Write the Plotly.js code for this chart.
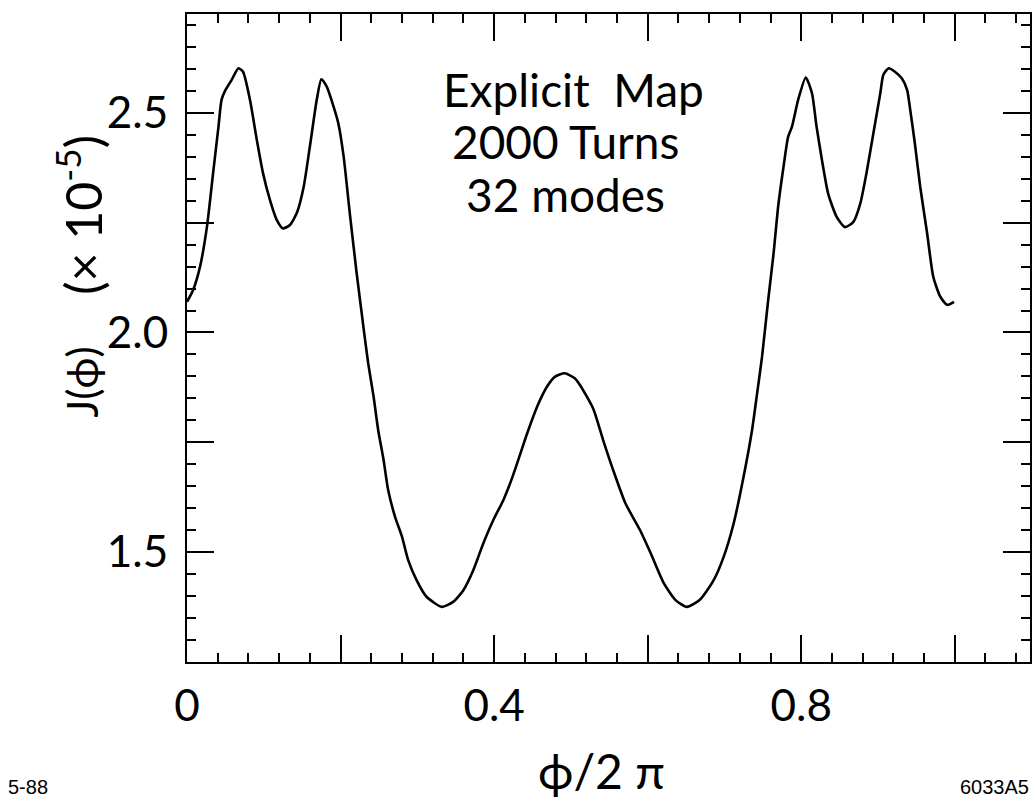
<!DOCTYPE html>
<html>
<head>
<meta charset="utf-8">
<script src="https://cdn.plot.ly/plotly-3.0.1.min.js"></script>
<style>html,body{margin:0;padding:0;background:#fff;}#chart{width:1035px;height:801px;}</style>
</head>
<body>
<div id="chart"></div>
<script>
// phase phi/2pi
const phase = [0.000,0.008,0.017,0.026,0.034,0.041,0.045,0.050,0.058,0.067,0.073,0.082,0.091,0.099,0.108,0.117,0.125,0.134,0.143,0.152,0.160,0.169,0.175,0.182,0.191,0.197,0.204,0.212,0.221,0.230,0.236,0.243,0.249,0.256,0.262,0.271,0.280,0.288,0.299,0.312,0.332,0.347,0.360,0.373,0.386,0.399,0.412,0.421,0.430,0.443,0.456,0.469,0.479,0.492,0.505,0.512,0.529,0.542,0.555,0.571,0.590,0.604,0.621,0.636,0.651,0.668,0.686,0.699,0.712,0.725,0.736,0.742,0.749,0.757,0.764,0.770,0.777,0.783,0.788,0.796,0.806,0.814,0.820,0.827,0.835,0.846,0.857,0.868,0.877,0.885,0.894,0.903,0.907,0.914,0.922,0.931,0.938,0.942,0.948,0.955,0.964,0.972,0.981,0.990,0.999];
// J(phi) in units of 1e-5
const jValues = [2.070,2.097,2.150,2.241,2.363,2.469,2.530,2.552,2.575,2.602,2.594,2.530,2.438,2.363,2.302,2.256,2.237,2.245,2.272,2.332,2.423,2.530,2.577,2.560,2.514,2.477,2.401,2.272,2.135,2.010,1.930,1.854,1.778,1.710,1.641,1.580,1.535,1.482,1.436,1.398,1.375,1.387,1.413,1.459,1.520,1.573,1.618,1.657,1.702,1.770,1.831,1.877,1.899,1.907,1.896,1.880,1.827,1.755,1.687,1.611,1.550,1.497,1.429,1.391,1.375,1.391,1.436,1.489,1.565,1.672,1.778,1.854,1.945,2.074,2.180,2.287,2.378,2.446,2.469,2.530,2.581,2.545,2.469,2.393,2.317,2.264,2.240,2.252,2.294,2.363,2.454,2.545,2.587,2.602,2.594,2.579,2.552,2.507,2.431,2.332,2.226,2.127,2.082,2.063,2.070];

const xLabelVals = [0, 0.4, 0.8];
const xLabelText = ['0', '0.4', '0.8'];
const xPlainVals = [0.2, 0.6, 1.0];
const xAllMajor = [0, 0.2, 0.4, 0.6, 0.8, 1.0];
const yLabelVals = [1.5, 2.0, 2.5];
const yLabelText = ['1.5', '2.0', '2.5'];
const yPlainVals = [1.75, 2.25];
const yAllMajor = [1.5, 1.75, 2.0, 2.25, 2.5];
const noteLines = ['Explicit\u00A0\u00A0Map', '2000 Turns', '32 modes'];
const xTitle = '\u03D5/2\u00A0\u03C0';
const yTitleA = 'J(\u03D5)';
const yTitleB = '(\u00D7\u00A010<sup>-5</sup>)';
const leftNote = '5-88';
const rightNote = '6033A5';

const X_RANGE = [0, 1.098];
const Y_RANGE = [1.2494, 2.7255];
const FONT = 'Lato, "Open Sans", sans-serif';

const mainTrace = {
  x: phase, y: jValues, type: 'scatter', mode: 'lines',
  line: {color: '#000', width: 2.6, shape: 'spline', smoothing: 0.6},
  hoverinfo: 'skip'
};
const ghost2 = {x: phase, y: jValues, xaxis: 'x2', yaxis: 'y2', type: 'scatter', mode: 'lines', opacity: 0, line: {width: 0}, hoverinfo: 'skip'};
const ghost3 = {x: phase, y: jValues, xaxis: 'x3', yaxis: 'y3', type: 'scatter', mode: 'lines', opacity: 0, line: {width: 0}, hoverinfo: 'skip'};

const base = {
  showgrid: false, zeroline: false, tickmode: 'array', autorange: false,
  ticks: 'inside', tickcolor: '#000', tickwidth: 2, ticklen: 27
};
const tf = {family: FONT, size: 44, color: '#000'};
const minorX = {ticks: 'inside', dtick: 0.04, tick0: 0, ticklen: 9, tickwidth: 2, tickcolor: '#000', showgrid: false};
const minorY = {ticks: 'inside', dtick: 0.05, tick0: 0, ticklen: 9, tickwidth: 2, tickcolor: '#000', showgrid: false};

const layout = {
  width: 1035, height: 801,
  margin: {l: 187, r: 5, t: 14, b: 139},
  paper_bgcolor: '#fff', plot_bgcolor: '#fff',
  showlegend: false,
  xaxis: Object.assign({}, base, {
    range: X_RANGE, side: 'bottom', tickvals: xLabelVals, ticktext: xLabelText,
    tickfont: tf, ticklabelstandoff: 4, showline: true, linecolor: '#000', linewidth: 2,
    minor: minorX
  }),
  xaxis2: Object.assign({}, base, {
    range: X_RANGE, side: 'bottom', overlaying: 'x', anchor: 'y2',
    tickvals: xPlainVals, showticklabels: false, showline: false
  }),
  xaxis3: Object.assign({}, base, {
    range: X_RANGE, side: 'top', overlaying: 'x', anchor: 'y3',
    tickvals: xAllMajor, showticklabels: false, showline: true, linecolor: '#000', linewidth: 2,
    minor: minorX
  }),
  yaxis: Object.assign({}, base, {
    range: Y_RANGE, side: 'left', tickvals: yLabelVals, ticktext: yLabelText,
    tickfont: tf, ticklabelstandoff: 8, showline: true, linecolor: '#000', linewidth: 2,
    minor: minorY
  }),
  yaxis2: Object.assign({}, base, {
    range: Y_RANGE, side: 'left', overlaying: 'y', anchor: 'x2',
    tickvals: yPlainVals, showticklabels: false, showline: false
  }),
  yaxis3: Object.assign({}, base, {
    range: Y_RANGE, side: 'right', overlaying: 'y', anchor: 'x3',
    tickvals: yAllMajor, showticklabels: false, showline: true, linecolor: '#000', linewidth: 2,
    minor: minorY
  }),
  annotations: [
    {xref: 'x', yref: 'y', x: 0.503, y: 2.553, text: noteLines[0], showarrow: false, xanchor: 'center', yanchor: 'middle', font: {family: FONT, size: 46, color: '#000'}},
    {xref: 'x', yref: 'y', x: 0.493, y: 2.434, text: noteLines[1], showarrow: false, xanchor: 'center', yanchor: 'middle', font: {family: FONT, size: 46, color: '#000'}},
    {xref: 'x', yref: 'y', x: 0.493, y: 2.315, text: noteLines[2], showarrow: false, xanchor: 'center', yanchor: 'middle', font: {family: FONT, size: 46, color: '#000'}},
    {xref: 'paper', yref: 'paper', x: 0.492, y: -0.168, text: xTitle, showarrow: false, xanchor: 'center', yanchor: 'middle', font: {family: FONT, size: 48, color: '#000'}},
    {xref: 'paper', yref: 'paper', x: -0.124, y: 0.432, text: yTitleA, textangle: -90, showarrow: false, xanchor: 'center', yanchor: 'middle', font: {family: FONT, size: 42, color: '#000'}},
    {xref: 'paper', yref: 'paper', x: -0.127, y: 0.69, text: yTitleB, textangle: -90, showarrow: false, xanchor: 'center', yanchor: 'middle', font: {family: FONT, size: 50, color: '#000'}},
    {xref: 'paper', yref: 'paper', x: -0.214, y: -0.193, text: leftNote, showarrow: false, borderpad: 0, xanchor: 'left', yanchor: 'middle', font: {family: '"Liberation Sans", Arial, sans-serif', size: 20, color: '#000'}},
    {xref: 'paper', yref: 'paper', x: 1.0, y: -0.193, text: rightNote, showarrow: false, borderpad: 0, xanchor: 'right', yanchor: 'middle', font: {family: '"Liberation Sans", Arial, sans-serif', size: 20, color: '#000'}}
  ]
};

Plotly.newPlot('chart', [mainTrace, ghost2, ghost3], layout, {staticPlot: true, displayModeBar: false});
</script>
</body>
</html>
